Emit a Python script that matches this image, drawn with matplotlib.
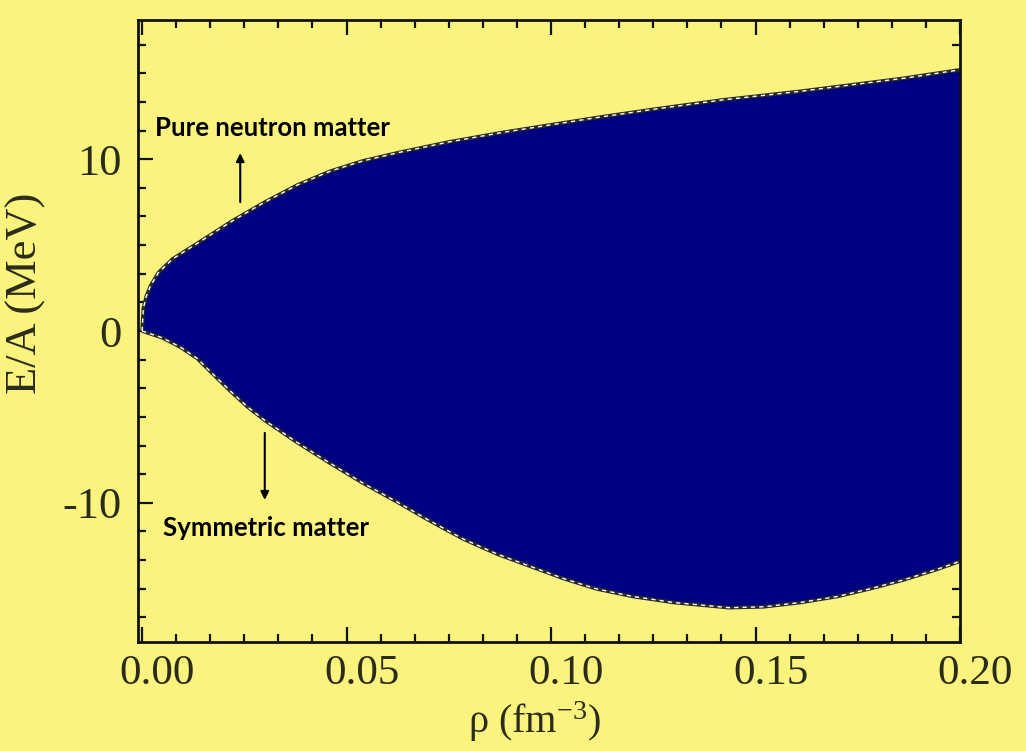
import numpy as np
import matplotlib
matplotlib.use("Agg")
import matplotlib.pyplot as plt
from matplotlib.ticker import MultipleLocator
from matplotlib.transforms import ScaledTranslation

# ---- data ----
rho_pnm = [0.0, 0.0003, 0.001, 0.002, 0.004, 0.0075, 0.0135, 0.022, 0.030, 0.038,
           0.046, 0.054, 0.063, 0.075, 0.088, 0.100, 0.112, 0.125, 0.142, 0.161,
           0.186, 0.200]
ea_pnm = [0.0, 1.3, 2.0, 2.6, 3.4, 4.2, 5.1, 6.4, 7.5, 8.5,
          9.3, 9.9, 10.4, 11.0, 11.55, 12.0, 12.45, 12.9, 13.45, 13.95,
          14.7, 15.2]

rho_sym = [0.0, 0.005, 0.0093, 0.0135, 0.0175, 0.0216, 0.0257, 0.030, 0.038, 0.046,
           0.054, 0.062, 0.070, 0.0785, 0.087, 0.095, 0.103, 0.111, 0.120, 0.130,
           0.1435, 0.152, 0.161, 0.170, 0.178, 0.186, 0.194, 0.200]
ea_sym = [0.0, -0.4, -0.93, -1.6, -2.55, -3.5, -4.4, -5.2, -6.5, -7.7,
          -8.85, -9.9, -11.0, -12.1, -13.0, -13.7, -14.4, -15.0, -15.45, -15.8,
          -16.1, -16.05, -15.8, -15.45, -15.0, -14.5, -13.9, -13.4]

x_ticks = [0.00, 0.05, 0.10, 0.15, 0.20]
x_ticklabels = ["0.00", "0.05", "0.10", "0.15", "0.20"]
y_ticks = [-10, 0, 10]
y_ticklabels = ["-10", "0", "10"]

YELLOW = "#FAF47F"
NAVY = "#000082"
SERIF = ["Liberation Serif", "DejaVu Serif"]
SANS = ["Lato", "Open Sans", "DejaVu Sans"]

plt.rcParams["mathtext.fontset"] = "custom"
plt.rcParams["mathtext.rm"] = "Liberation Serif"
plt.rcParams["mathtext.it"] = "Liberation Serif:italic"

fig = plt.figure(figsize=(10.26, 7.51), dpi=100, facecolor=YELLOW)
ax = fig.add_axes([0.1345, 0.1451, 0.8012, 0.8283], facecolor=YELLOW)

# filled band between the two curves
poly_x = np.concatenate([np.array(rho_pnm), np.array(rho_sym)[::-1]])
poly_y = np.concatenate([np.array(ea_pnm), np.array(ea_sym)[::-1]])
ax.fill(poly_x, poly_y, color=NAVY, lw=0, zorder=2)

for xs, ys in [(rho_pnm, ea_pnm), (rho_sym, ea_sym)]:
    ax.plot(xs, ys, color="#2a2a2a", lw=2.6, zorder=3, solid_capstyle="butt")
    ax.plot(xs, ys, color="white", lw=1.0, ls=(0, (3, 3)), zorder=4)

ax.set_xlim(-0.001, 0.2)
ax.set_ylim(-18.1, 18.1)

ax.set_xticks(x_ticks)
ax.set_xticklabels(x_ticklabels, fontfamily=SERIF, fontsize=31, color="#2b2b1a")
ax.set_yticks(y_ticks)
ax.set_yticklabels(y_ticklabels, fontfamily=SERIF, fontsize=32, color="#2b2b1a")
ax.xaxis.set_minor_locator(MultipleLocator(0.05 / 6))
ax.yaxis.set_minor_locator(MultipleLocator(10 / 6))
ax.tick_params(which="both", direction="in", top=True, right=True,
               color="#111111", width=1.6)
ax.tick_params(which="major", length=11)
ax.tick_params(axis="y", which="major", pad=12)
ax.tick_params(axis="x", which="major", pad=9)
ax.tick_params(which="minor", length=6)
for sp in ax.spines.values():
    sp.set_linewidth(2.0)
    sp.set_color("#111111")
    sp.set_zorder(6)

off = ScaledTranslation(15 / 100, 0, fig.dpi_scale_trans)
for lab in ax.get_xticklabels():
    lab.set_transform(lab.get_transform() + off)

ax.set_xlabel("\u03c1 (fm$^{-3}$)", fontfamily=SERIF, fontsize=29, color="#2b2b1a")
ax.set_ylabel("E/A (MeV)", fontfamily=SERIF, fontsize=32, color="#2b2b1a")
ax.xaxis.set_label_coords(0.483, -0.092)
ax.yaxis.set_label_coords(-0.112, 0.56)

ax.text(0.0032, 11.8, "Pure neutron matter", fontfamily=SANS, fontweight="bold",
        fontsize=18.5, va="center", ha="left", color="black", zorder=5)
ax.text(0.0051, -11.45, "Symmetric matter", fontfamily=SANS, fontweight="bold",
        fontsize=18.5, va="center", ha="left", color="black", zorder=5)
ax.annotate("", xy=(0.024, 10.35), xytext=(0.024, 7.5),
            arrowprops=dict(arrowstyle="-|>", color="black", lw=1.5,
                            mutation_scale=12, shrinkA=0, shrinkB=0), zorder=5)
ax.annotate("", xy=(0.030, -9.83), xytext=(0.030, -5.93),
            arrowprops=dict(arrowstyle="-|>", color="black", lw=1.5,
                            mutation_scale=12, shrinkA=0, shrinkB=0), zorder=5)

fig.savefig("out.png", dpi=100, facecolor=YELLOW)
